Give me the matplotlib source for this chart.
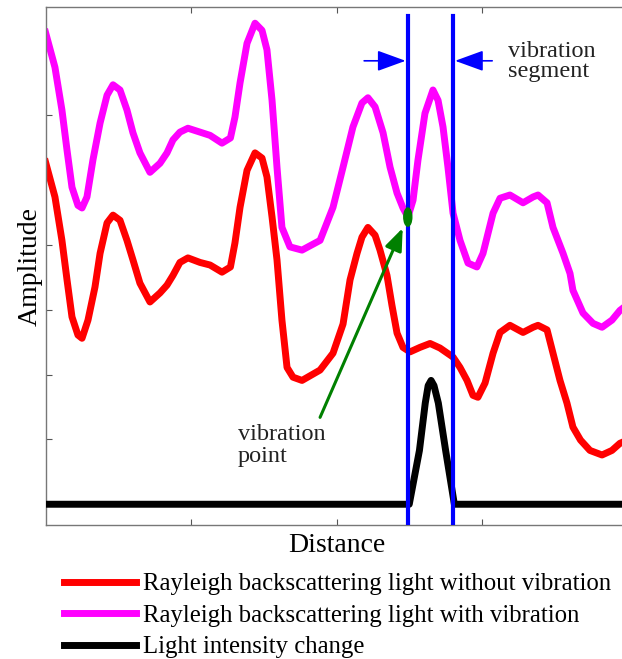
import matplotlib
matplotlib.use("Agg")
import matplotlib.pyplot as plt
from matplotlib.lines import Line2D
from matplotlib.patches import Ellipse

plt.rcParams["font.family"] = ["Liberation Serif", "DejaVu Serif"]

# Rayleigh backscattering trace, no vibration (red)
red_x = [0.000, 0.065, 0.113, 0.148, 0.182, 0.223, 0.251, 0.292, 0.340, 0.375,
         0.423, 0.464, 0.512, 0.560, 0.601, 0.649, 0.718, 0.787, 0.835, 0.876,
         0.924, 0.979, 1.062, 1.131, 1.213, 1.271, 1.302, 1.337, 1.385, 1.440,
         1.488, 1.522, 1.557, 1.591, 1.625, 1.660, 1.701, 1.763, 1.887, 1.976,
         2.045, 2.093, 2.141, 2.175, 2.216, 2.265, 2.299, 2.347, 2.381, 2.416,
         2.457, 2.505, 2.574, 2.643, 2.711, 2.801, 2.849, 2.897, 2.938, 2.972,
         3.021, 3.076, 3.124, 3.192, 3.282, 3.351, 3.385, 3.447, 3.488, 3.536,
         3.584, 3.625, 3.677, 3.742, 3.825, 3.893, 3.948, 4.000]
red_y = [5.28, 4.74, 4.07, 3.46, 2.89, 2.61, 2.56, 2.84, 3.35, 3.87,
         4.34, 4.46, 4.38, 4.07, 3.77, 3.41, 3.12, 3.26, 3.38, 3.53,
         3.73, 3.80, 3.73, 3.69, 3.58, 3.66, 4.03, 4.58, 5.15, 5.42,
         5.34, 5.05, 4.43, 3.77, 2.84, 2.11, 1.96, 1.91, 2.07, 2.33,
         2.78, 3.46, 3.87, 4.12, 4.27, 4.15, 3.92, 3.53, 3.07, 2.64,
         2.42, 2.35, 2.42, 2.48, 2.41, 2.27, 2.11, 1.91, 1.68, 1.65,
         1.87, 2.33, 2.65, 2.76, 2.65, 2.73, 2.76, 2.69, 2.33, 1.91,
         1.56, 1.19, 0.99, 0.83, 0.76, 0.83, 0.94, 0.99]

# Rayleigh backscattering trace, with vibration (magenta)
mag_x = [0.000, 0.065, 0.113, 0.148, 0.182, 0.223, 0.251, 0.285, 0.326, 0.375,
         0.423, 0.464, 0.512, 0.560, 0.601, 0.649, 0.718, 0.787, 0.835, 0.876,
         0.924, 0.979, 1.062, 1.131, 1.213, 1.271, 1.302, 1.337, 1.385, 1.440,
         1.488, 1.522, 1.557, 1.591, 1.625, 1.680, 1.763, 1.887, 1.976, 2.045,
         2.113, 2.175, 2.216, 2.265, 2.320, 2.368, 2.416, 2.457, 2.491, 2.526,
         2.560, 2.608, 2.663, 2.698, 2.732, 2.766, 2.801, 2.849, 2.904, 2.965,
         3.007, 3.076, 3.124, 3.192, 3.282, 3.351, 3.385, 3.447, 3.488, 3.557,
         3.605, 3.625, 3.694, 3.763, 3.825, 3.893, 3.948, 4.000]
mag_y = [7.28, 6.74, 6.08, 5.46, 4.89, 4.61, 4.57, 4.74, 5.31, 5.88,
         6.31, 6.47, 6.39, 6.08, 5.73, 5.42, 5.12, 5.26, 5.42, 5.62,
         5.74, 5.80, 5.74, 5.69, 5.57, 5.65, 5.97, 6.50, 7.11, 7.42,
         7.31, 7.01, 6.23, 5.20, 4.27, 3.97, 3.92, 4.07, 4.58, 5.20,
         5.82, 6.19, 6.27, 6.13, 5.73, 5.20, 4.80, 4.57, 4.43, 4.69,
         5.31, 6.03, 6.39, 6.23, 5.82, 5.20, 4.49, 4.07, 3.72, 3.66,
         3.87, 4.49, 4.72, 4.77, 4.65, 4.74, 4.77, 4.65, 4.27, 3.87,
         3.56, 3.30, 2.95, 2.79, 2.73, 2.84, 2.99, 3.08]

# light intensity change (black)
blk_x = [0.00, 2.50, 2.57, 2.61, 2.63, 2.65, 2.67, 2.70, 2.75, 2.81, 4.00]
blk_y = [0.00, 0.00, 0.83, 1.56, 1.83, 1.91, 1.83, 1.56, 0.83, 0.00, 0.00]

segment_x = [2.49, 2.80]          # vibration segment borders
vib_point = (2.49, 4.43)          # vibration point on magenta trace

legend_labels = ["Rayleigh backscattering light without vibration",
                 "Rayleigh backscattering light with vibration",
                 "Light intensity change"]

W, H = 622, 659
fig = plt.figure(figsize=(W / 100, H / 100), dpi=100)
ax = fig.add_axes([45.5 / W, (H - 525) / H, 582 / W, 518 / H])

ax.plot(red_x, red_y, color="red", lw=5, solid_joinstyle="round", zorder=2)
ax.plot(mag_x, mag_y, color="magenta", lw=5, solid_joinstyle="round", zorder=2)
ax.plot(blk_x, blk_y, color="black", lw=5, solid_joinstyle="round", zorder=3)

ylo, yhi = -0.32, 7.67
for sx in segment_x:
    ax.plot([sx, sx], [ylo, 7.53], color="blue", lw=3, zorder=4)

ax.add_patch(Ellipse(vib_point, 0.055, 0.28, color="green", zorder=5))

# vibration segment arrows
seg_arrow = dict(arrowstyle="-|>,head_length=1.1,head_width=0.4",
                 color="blue", lw=1.2, mutation_scale=16, shrinkA=0, shrinkB=0)
ax.annotate("", xy=(segment_x[0] - 0.015, 6.84), xytext=(2.19, 6.84),
            arrowprops=seg_arrow)
ax.annotate("", xy=(segment_x[1] + 0.015, 6.84), xytext=(3.07, 6.84),
            arrowprops=seg_arrow)
ax.text(3.18, 7.15, "vibration\nsegment", fontsize=17.5, va="top", ha="left",
        linespacing=0.95, color="#222222")

# vibration point arrow
ax.annotate("", xy=(2.455, 4.26), xytext=(1.887, 1.34),
            arrowprops=dict(arrowstyle="-|>,head_length=0.9,head_width=0.35",
                            color="green", lw=2.2, mutation_scale=15,
                            shrinkA=0, shrinkB=0), zorder=5)
ax.text(1.32, 1.24, "vibration\npoint", fontsize=17.5, va="top", ha="left",
        linespacing=1.05, color="#222222")

ax.set_xlim(0, 4)
ax.set_ylim(ylo, yhi)
ax.set_xticks([1, 2, 3])
ax.set_yticks(range(0, 8))
ax.tick_params(direction="in", length=4, width=0.8, color="#555555",
               top=True, bottom=True, left=True, right=False,
               labelbottom=False, labelleft=False)
for s in ax.spines.values():
    s.set_color("#777777")
    s.set_linewidth(1)

ax.set_xlabel("Distance", fontsize=20, labelpad=6)
ax.set_ylabel("Amplitude", fontsize=20, labelpad=2)

handles = [Line2D([], [], color=c, lw=5) for c in ["red", "magenta", "black"]]
fig.legend(handles, legend_labels, loc="upper left",
           bbox_to_anchor=(64 / W, 1 - 573 / H), frameon=False,
           fontsize=17.8, handlelength=2.9, handletextpad=0.3,
           labelspacing=0.37, borderpad=0, borderaxespad=0)

fig.savefig("out.png", dpi=100)
